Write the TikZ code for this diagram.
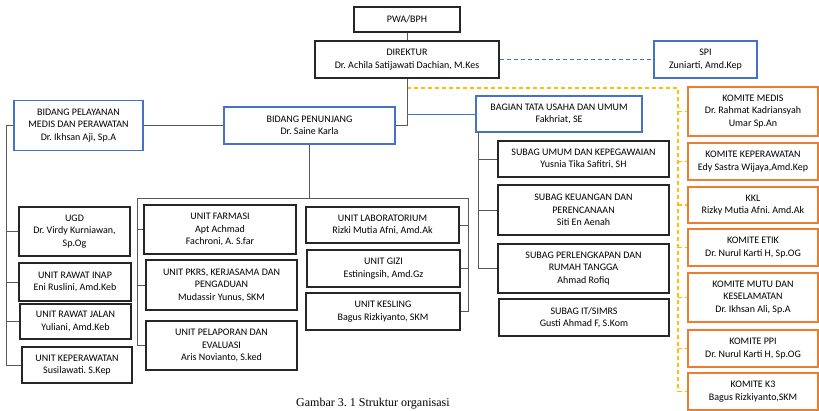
\documentclass[tikz,border=0pt]{standalone}
\usepackage{fontspec}
\setmainfont{Carlito}
\newfontfamily\capfont{Liberation Serif}
\usepackage{tikz}
\usetikzlibrary{calc}
\frenchspacing
\definecolor{boxblue}{HTML}{4472C4}
\definecolor{boxorange}{HTML}{ED7D31}
\definecolor{lineyellow}{HTML}{FFC000}
\definecolor{linegray}{HTML}{595959}
\tikzstyle{unitbox}=[rectangle,draw=black!85,line width=1.2pt,align=center,inner sep=2pt,font=\fontsize{10}{12.5}\selectfont]
\tikzstyle{bluebox}=[unitbox,draw=boxblue]
\tikzstyle{komitebox}=[unitbox,draw=boxorange]
\tikzstyle{link}=[draw=linegray,line width=0.8pt]
\tikzstyle{bluelink}=[draw=boxblue,line width=0.8pt]
\tikzstyle{bluedash}=[draw=boxblue,line width=1.1pt,dash pattern=on 4pt off 3pt]
\tikzstyle{yellowdash}=[draw=lineyellow,line width=1.1pt,dash pattern=on 4pt off 3pt]
\newcommand{\orgNbox}[6]{
	\node[#1, minimum width=#4pt, minimum height=#5pt] (#2) at #3 {#6};
}

\begin{document}
\begin{tikzpicture}[x=1pt,y=-1pt]
	\useasboundingbox (0,0) rectangle (819,411);
	\orgNbox{unitbox}{pwa}{(407,19.5)}{106}{25}{PWA/BPH}
	\orgNbox{unitbox}{dir}{(407,59.5)}{184}{37}{DIREKTUR\\Dr. Achila Satijawati Dachian, M.Kes}
	\orgNbox{bluebox}{spi}{(705.5,59.5)}{103}{37}{SPI\\Zuniarti, Amd.Kep}
	\orgNbox{bluebox}{pel}{(78.5,125.5)}{129}{50}{BIDANG PELAYANAN\\MEDIS DAN PERAWATAN\\Dr. Ikhsan Aji, Sp.A}
	\orgNbox{bluebox}{pen}{(309.5,125.5)}{171}{37}{BIDANG PENUNJANG\\Dr. Saine Karla}
	\orgNbox{bluebox}{tu}{(559,114)}{166}{36}{BAGIAN TATA USAHA DAN UMUM\\Fakhriat, SE}
	\orgNbox{unitbox}{sumum}{(583.5,159)}{171}{36}{SUBAG UMUM DAN KEPEGAWAIAN\\Yusnia Tika Safitri, SH}
	\orgNbox{unitbox}{skeu}{(583.5,210)}{171}{50}{SUBAG KEUANGAN DAN\\PERENCANAAN\\Siti En Aenah}
	\orgNbox{unitbox}{sperl}{(583.5,268.5)}{171}{49}{SUBAG PERLENGKAPAN DAN\\RUMAH TANGGA\\Ahmad Rofiq}
	\orgNbox{unitbox}{sit}{(584,317.5)}{170}{37}{SUBAG IT/SIMRS\\Gusti Ahmad F, S.Kom}
	\orgNbox{unitbox}{ugd}{(74.5,231.5)}{111}{49}{UGD\\Dr. Virdy Kurniawan,\\Sp.Og}
	\orgNbox{unitbox}{rinap}{(75,282)}{112}{38}{UNIT RAWAT INAP\\Eni Ruslini, Amd.Keb}
	\orgNbox{unitbox}{rjalan}{(75.5,321.5)}{111}{35}{UNIT RAWAT JALAN\\Yuliani, Amd.Keb}
	\orgNbox{unitbox}{kep}{(77,365)}{110}{36}{UNIT KEPERAWATAN\\Susilawati. S.Kep}
	\orgNbox{unitbox}{farm}{(220,229.5)}{152}{49}{UNIT FARMASI\\Apt Achmad\\Fachroni, A. S.far}
	\orgNbox{unitbox}{pkrs}{(221.5,285)}{151}{50}{UNIT PKRS, KERJASAMA DAN\\PENGADUAN\\Mudassir Yunus, SKM}
	\orgNbox{unitbox}{lapor}{(221.5,345.5)}{151}{49}{UNIT PELAPORAN DAN\\EVALUASI\\Aris Novianto, S.ked}
	\orgNbox{unitbox}{lab}{(382.5,225)}{153}{36}{UNIT LABORATORIUM\\Rizki Mutia Afni, Amd.Ak}
	\orgNbox{unitbox}{gizi}{(383.5,268.5)}{153}{37}{UNIT GIZI\\Estiningsih, Amd.Gz}
	\orgNbox{unitbox}{kesl}{(383,311.5)}{154}{37}{UNIT KESLING\\Bagus Rizkiyanto, SKM}
	\orgNbox{komitebox}{medis}{(753,111.5)}{130}{49}{KOMITE MEDIS\\Dr. Rahmat Kadriansyah\\Umar Sp.An}
	\orgNbox{komitebox}{kkep}{(753,161.5)}{130}{37}{KOMITE KEPERAWATAN\\Edy Sastra Wijaya,Amd.Kep}
	\orgNbox{komitebox}{kkl}{(753,205)}{130}{36}{KKL\\Rizky Mutia Afni. Amd.Ak}
	\orgNbox{komitebox}{etik}{(753,247.5)}{130}{37}{KOMITE ETIK\\Dr. Nurul Karti H, Sp.OG}
	\orgNbox{komitebox}{mutu}{(753,297.5)}{130}{49}{KOMITE MUTU DAN\\KESELAMATAN\\Dr. Ikhsan Ali, Sp.A}
	\orgNbox{komitebox}{ppi}{(753,348.5)}{130}{37}{KOMITE PPI\\Dr. Nurul Karti H, Sp.OG}
	\orgNbox{komitebox}{kk3}{(753,391.5)}{130}{37}{KOMITE K3\\Bagus Rizkiyanto,SKM}
	\node[anchor=west,inner sep=0pt,font=\capfont\fontsize{12}{14}\selectfont] (cap) at (296,404) {Gambar 3. 1 Struktur organisasi};
	\coordinate (ybus) at (678,88);
	\coordinate (lbus) at (6,125.5);
	\coordinate (mleft) at (137,198);
	\coordinate (mright) at (468,198);
	\coordinate (tbus) at (478,132);
	\draw[link] (pwa) -- (dir);
	\draw[bluedash] (dir) -- (spi);
	\draw[yellowdash] (dir.south |- ybus) -- (ybus) |- (kk3.west);
	\foreach \k in {medis,kkep,kkl,etik,mutu,ppi}
		\draw[yellowdash] (ybus |- \k.west) -- (\k.west);
	\draw[link] (dir.south) |- (pen.east);
	\draw[bluelink] (dir.south |- tu.west) -- (tu.west);
	\draw[link] (pen) -- (pel);
	\draw[link] (pel.west) -- (lbus) |- (kep.west);
	\foreach \u in {ugd,rinap,rjalan}
		\draw[link] (lbus |- \u.west) -- (\u.west);
	\draw[link] (pen.south) -- (pen.south |- mleft);
	\draw[link] (lapor.west) -| (mleft) -- (mright) |- (kesl.east);
	\foreach \u in {farm,pkrs}
		\draw[link] (mleft |- \u.west) -- (\u.west);
	\foreach \u in {lab,gizi}
		\draw[link] (mright |- \u.east) -- (\u.east);
	\draw[link] (tbus) |- (sperl.west);
	\foreach \u in {sumum,skeu}
		\draw[link] (tbus |- \u.west) -- (\u.west);
\end{tikzpicture}
\end{document}
